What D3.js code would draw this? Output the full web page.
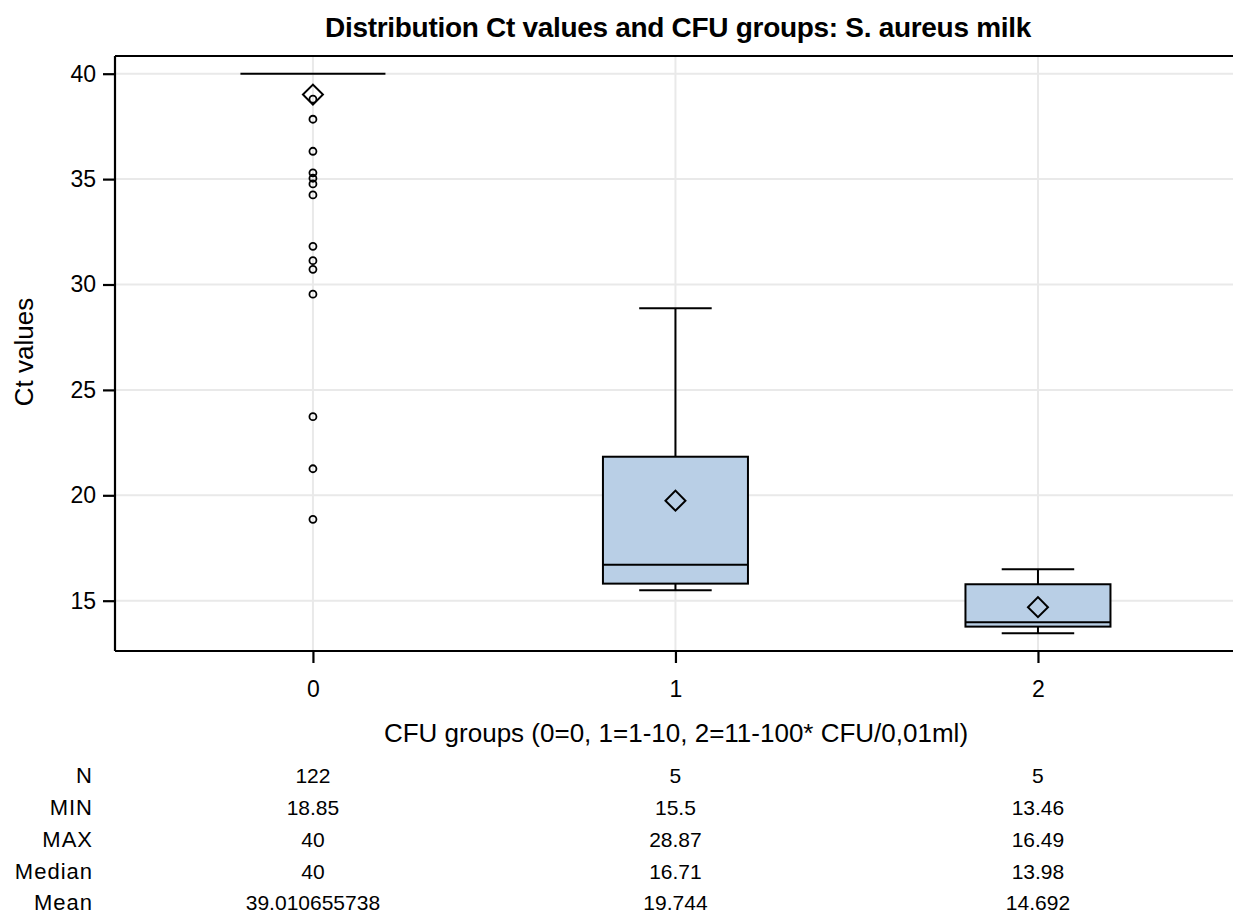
<!DOCTYPE html>
<html>
<head>
<meta charset="utf-8">
<script src="https://cdn.jsdelivr.net/npm/d3@7"></script>
<style>
  html, body { margin: 0; padding: 0; background: #fff; }
  svg { display: block; font-family: "Liberation Sans", Arial, sans-serif; }
</style>
</head>
<body>
<svg id="chart" width="1233" height="916"></svg>
<script>
// ---- data ----
const categories = [0, 1, 2];
const nValues = [122, 5, 5];
const minValues = [18.85, 15.5, 13.46];
const maxValues = [40, 28.87, 16.49];
const medianValues = [40, 16.71, 13.98];
const meanValues = [39.010655738, 19.744, 14.692];
const q1Values = [40, 15.81, 13.77];
const q3Values = [40, 21.83, 15.78];
const whiskerLow = [40, 15.5, 13.46];
const whiskerHigh = [40, 28.87, 16.49];
const outliers0 = [38.79, 37.84, 36.32, 35.30, 35.04, 34.77, 34.25, 31.81, 31.13, 30.72, 29.54, 23.73, 21.26, 18.86];
const yTicks = [15, 20, 25, 30, 35, 40];
const tableRows = ["N", "MIN", "MAX", "Median", "Mean"];
const tableValues = [
  nValues.map(String),
  minValues.map(String),
  maxValues.map(String),
  medianValues.map(String),
  meanValues.map(String)
];
const titleText = "Distribution Ct values and CFU groups: S. aureus milk";
const xLabel = "CFU groups (0=0, 1=1-10, 2=11-100*  CFU/0,01ml)";
const yLabel = "Ct values";

// ---- layout ----
const plotL = 115, plotR = 1233, plotT = 56, plotB = 651;
const svg = d3.select("#chart");

const x = d3.scaleLinear().domain([-0.546, 2.538]).range([plotL, plotR]);
const y = d3.scaleLinear().domain([15, 40]).range([600.7, 73.7]);
const unit = x(1) - x(0);
const boxW = unit * 0.4, capW = unit * 0.2;
const SW = 2;

// grid
svg.append("g").selectAll("line").data(yTicks).join("line")
  .attr("x1", plotL).attr("x2", plotR)
  .attr("y1", d => y(d)).attr("y2", d => y(d))
  .attr("stroke", "#e9e9e9").attr("stroke-width", 2);
svg.append("g").selectAll("line").data(categories).join("line")
  .attr("x1", d => x(d)).attr("x2", d => x(d))
  .attr("y1", plotT).attr("y2", plotB)
  .attr("stroke", "#e9e9e9").attr("stroke-width", 2);

// boxes
const g = svg.append("g");
categories.forEach((c, i) => {
  const cx = x(c);
  if (whiskerHigh[i] > q3Values[i]) {
    g.append("line").attr("x1", cx).attr("x2", cx).attr("y1", y(q3Values[i])).attr("y2", y(whiskerHigh[i]))
      .attr("stroke", "#000").attr("stroke-width", SW);
    g.append("line").attr("x1", cx - capW / 2).attr("x2", cx + capW / 2).attr("y1", y(whiskerHigh[i])).attr("y2", y(whiskerHigh[i]))
      .attr("stroke", "#000").attr("stroke-width", SW);
  }
  if (whiskerLow[i] < q1Values[i]) {
    g.append("line").attr("x1", cx).attr("x2", cx).attr("y1", y(q1Values[i])).attr("y2", y(whiskerLow[i]))
      .attr("stroke", "#000").attr("stroke-width", SW);
    g.append("line").attr("x1", cx - capW / 2).attr("x2", cx + capW / 2).attr("y1", y(whiskerLow[i])).attr("y2", y(whiskerLow[i]))
      .attr("stroke", "#000").attr("stroke-width", SW);
  }
  g.append("rect").attr("x", cx - boxW / 2).attr("width", boxW)
    .attr("y", y(q3Values[i])).attr("height", Math.max(0, y(q1Values[i]) - y(q3Values[i])))
    .attr("fill", "#b9cfe6").attr("stroke", "#000").attr("stroke-width", SW);
  g.append("line").attr("x1", cx - boxW / 2).attr("x2", cx + boxW / 2)
    .attr("y1", y(medianValues[i])).attr("y2", y(medianValues[i]))
    .attr("stroke", "#000").attr("stroke-width", SW);
});

// outliers
g.selectAll("circle").data(outliers0).join("circle")
  .attr("cx", x(0)).attr("cy", d => y(d)).attr("r", 3.5)
  .attr("fill", "none").attr("stroke", "#000").attr("stroke-width", 1.8);

// means
const diamond = d3.symbol().type(d3.symbolSquare).size(200);
g.selectAll("path.mean").data(categories).join("path")
  .attr("class", "mean")
  .attr("d", diamond)
  .attr("transform", (c, i) => `translate(${x(c)},${y(meanValues[i])}) rotate(45)`)
  .attr("fill", "none").attr("stroke", "#000").attr("stroke-width", SW);

// frame top line
svg.append("line").attr("x1", plotL).attr("x2", plotR).attr("y1", plotT).attr("y2", plotT)
  .attr("stroke", "#000").attr("stroke-width", 2);

// axes
const yAxis = d3.axisLeft(y).tickValues(yTicks).tickSize(12).tickPadding(7);
const ya = svg.append("g").attr("transform", `translate(${plotL},0)`).call(yAxis);
ya.select(".domain").attr("d", `M0,${plotT}V${plotB}`).attr("stroke-width", 2.2);
ya.selectAll(".tick line").attr("stroke-width", 2.2);
ya.selectAll(".tick text").attr("font-size", 23).attr("font-family", "Liberation Sans, Arial, sans-serif").attr("fill", "#000");

const xAxis = d3.axisBottom(x).tickValues(categories).tickSize(12).tickFormat(d3.format("d"));
const xa = svg.append("g").attr("transform", `translate(0,${plotB})`).call(xAxis);
xa.select(".domain").attr("d", `M${plotL},0H${plotR}`).attr("stroke-width", 2.2);
xa.selectAll(".tick line").attr("stroke-width", 2.2);
xa.selectAll(".tick text").attr("font-size", 23).attr("font-family", "Liberation Sans, Arial, sans-serif")
  .attr("fill", "#000").attr("y", 0).attr("dy", 0).attr("transform", "translate(0,46)");

// title and labels
svg.append("text").attr("x", 678).attr("y", 37).attr("text-anchor", "middle")
  .attr("font-size", 28).attr("font-weight", "bold").attr("letter-spacing", -0.3).text(titleText);
svg.append("text").attr("transform", "translate(33,352) rotate(-90)").attr("text-anchor", "middle")
  .attr("font-size", 26).text(yLabel);
svg.append("text").attr("x", 676).attr("y", 742).attr("text-anchor", "middle")
  .attr("font-size", 26).text(xLabel);

// table
const rowY = [783, 815, 847, 879, 910];
const tbl = svg.append("g");
tableRows.forEach((r, ri) => {
  tbl.append("text").attr("x", 93).attr("y", rowY[ri]).attr("text-anchor", "end")
    .attr("font-size", 22).attr("letter-spacing", 1).text(r);
  categories.forEach((c, ci) => {
    tbl.append("text").attr("x", x(c)).attr("y", rowY[ri]).attr("text-anchor", "middle")
      .attr("font-size", 21).text(tableValues[ri][ci]);
  });
});
</script>
</body>
</html>
